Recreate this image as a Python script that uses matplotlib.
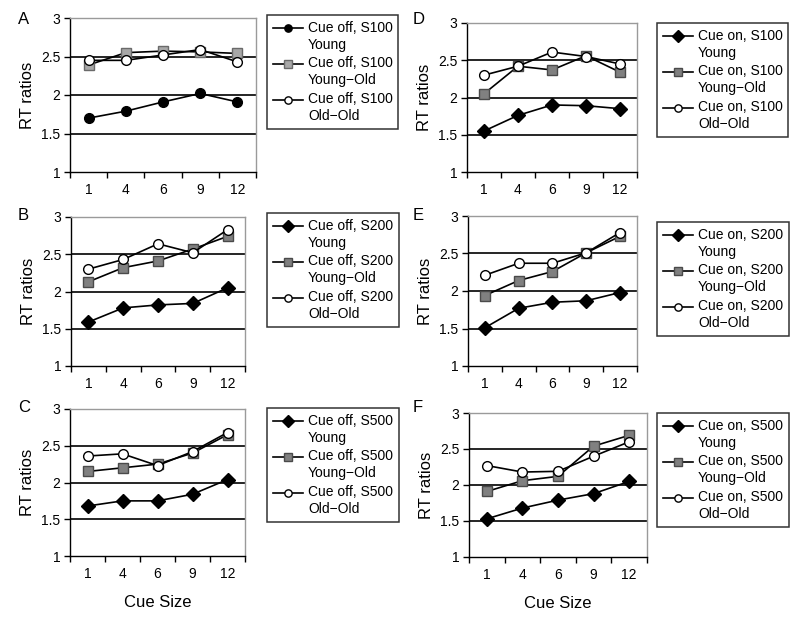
import matplotlib
matplotlib.use("Agg")
import matplotlib.pyplot as plt
from matplotlib.legend_handler import HandlerLine2D
import numpy as np

plt.rcParams['font.family'] = ['Liberation Sans', 'DejaVu Sans']

cue_sizes = ["1", "4", "6", "9", "12"]

# Panel A: Cue off, S100
A_young = [1.70, 1.79, 1.91, 2.02, 1.91]
A_yold = [2.39, 2.55, 2.57, 2.56, 2.54]
A_oold = [2.45, 2.45, 2.52, 2.59, 2.43]
# Panel B: Cue off, S200
B_young = [1.59, 1.78, 1.82, 1.84, 2.05]
B_yold = [2.13, 2.32, 2.41, 2.57, 2.74]
B_oold = [2.30, 2.43, 2.64, 2.52, 2.83]
# Panel C: Cue off, S500
C_young = [1.68, 1.75, 1.75, 1.84, 2.04]
C_yold = [2.15, 2.20, 2.25, 2.40, 2.65]
C_oold = [2.36, 2.39, 2.23, 2.42, 2.68]
# Panel D: Cue on, S100
D_young = [1.55, 1.76, 1.90, 1.89, 1.85]
D_yold = [2.05, 2.42, 2.37, 2.56, 2.34]
D_oold = [2.30, 2.42, 2.61, 2.55, 2.45]
# Panel E: Cue on, S200
E_young = [1.51, 1.77, 1.85, 1.87, 1.98]
E_yold = [1.94, 2.14, 2.26, 2.51, 2.73]
E_oold = [2.21, 2.37, 2.37, 2.51, 2.78]
# Panel F: Cue on, S500
F_young = [1.53, 1.68, 1.79, 1.88, 2.05]
F_yold = [1.91, 2.06, 2.12, 2.54, 2.69]
F_oold = [2.27, 2.18, 2.19, 2.40, 2.60]

W, H = 800, 617
fig = plt.figure(figsize=(W / 100, H / 100), dpi=100)


class HandlerTop(HandlerLine2D):
    """Place the legend handle beside the first line of a two-line label."""
    def __init__(self, dy, **kw):
        super().__init__(**kw)
        self.dy = dy

    def create_artists(self, legend, orig_handle, xdescent, ydescent, width,
                       height, fontsize, trans):
        return super().create_artists(legend, orig_handle, xdescent,
                                      ydescent - 2 * self.dy, width, height,
                                      fontsize, trans)


def fr(l, t, r, b):
    return [l / W, 1 - b / H, (r - l) / W, (b - t) / H]


panels = [
    ("A", "off", "S100", (A_young, A_yold, A_oold), (70, 18, 256, 172), (267, 15), (18, 20), "o", "#a8a8a8", "#6a6a6a", False),
    ("B", "off", "S200", (B_young, B_yold, B_oold), (71, 217, 245, 366), (267, 213), (18, 216), "D", "#808080", "#4a4a4a", False),
    ("C", "off", "S500", (C_young, C_yold, C_oold), (70, 409, 245, 556), (267, 408), (18, 408), "D", "#808080", "#4a4a4a", True),
    ("D", "on", "S100", (D_young, D_yold, D_oold), (467, 23, 637, 172), (657, 23), (413, 20), "D", "#808080", "#4a4a4a", False),
    ("E", "on", "S200", (E_young, E_yold, E_oold), (468, 216, 637, 366), (657, 222), (413, 216), "D", "#808080", "#4a4a4a", False),
    ("F", "on", "S500", (F_young, F_yold, F_oold), (469, 413, 647, 557), (657, 413), (413, 408), "D", "#808080", "#4a4a4a", True),
]

x = np.arange(len(cue_sizes))
LS = 1.27
DY = 6.0

for (letter, cue, stim, data, box, legpos, labpos, ymark, sqfill, sqedge, showx) in panels:
    ax = fig.add_axes(fr(*box))
    young, yold, oold = data
    ms_y = 7 if ymark == "o" else 7.5
    l1, = ax.plot(x, young, color="black", lw=1.2, marker=ymark, ms=ms_y,
                  mfc="black", mec="black", zorder=3)
    l2, = ax.plot(x, yold, color="black", lw=1.2, marker="s", ms=7,
                  mfc=sqfill, mec=sqedge, mew=1.0, zorder=3)
    l3, = ax.plot(x, oold, color="black", lw=1.2, marker="o", ms=7,
                  mfc="white", mec="black", mew=1.0, zorder=4)
    ax.set_xlim(-0.5, len(cue_sizes) - 0.5)
    ax.set_ylim(1, 3)
    for yv in [1.5, 2, 2.5]:
        ax.axhline(yv, color="black", lw=1.2, zorder=1)
    ax.set_yticks([1, 1.5, 2, 2.5, 3])
    ax.set_yticklabels(["1", "1.5", "2", "2.5", "3"], fontsize=10)
    ax.set_xticks(np.arange(-0.5, len(cue_sizes)), labels=[])
    ax.set_xticks(x, labels=cue_sizes, minor=True)
    ax.tick_params(axis="x", which="minor", length=0, labelsize=10, pad=8)
    ax.tick_params(axis="x", which="major", direction="out", length=4, width=1)
    ax.tick_params(axis="y", direction="out", length=4, width=1, pad=3)
    for s in ["top", "right"]:
        ax.spines[s].set_color("#9a9a9a")
        ax.spines[s].set_linewidth(1.0)
    for s in ["left", "bottom"]:
        ax.spines[s].set_color("black")
        ax.spines[s].set_linewidth(1.0)
    ax.set_ylabel("RT ratios", fontsize=12, labelpad=4)
    if showx:
        ax.set_xlabel("Cue Size", fontsize=12, labelpad=10)
    fig.text(labpos[0] / W, 1 - labpos[1] / H, letter, fontsize=12, va="center", ha="left")
    labels = [f"Cue {cue}, {stim}\nYoung", f"Cue {cue}, {stim}\nYoung\u2212Old",
              f"Cue {cue}, {stim}\nOld\u2212Old"]
    hmap = {h: HandlerTop(DY) for h in (l1, l2, l3)}
    leg = ax.legend([l1, l2, l3], labels, loc="upper left",
                    bbox_to_anchor=(legpos[0] / W, 1 - legpos[1] / H),
                    bbox_transform=fig.transFigure, fontsize=10,
                    frameon=True, fancybox=False, edgecolor="black",
                    markerscale=0.75, handlelength=2.2, handletextpad=0.35,
                    labelspacing=0.35, borderpad=0.4, borderaxespad=0,
                    handler_map=hmap)
    for t in leg.get_texts():
        t.set_linespacing(LS)
    leg.get_frame().set_linewidth(1.1)

fig.savefig("out.png", dpi=100)
